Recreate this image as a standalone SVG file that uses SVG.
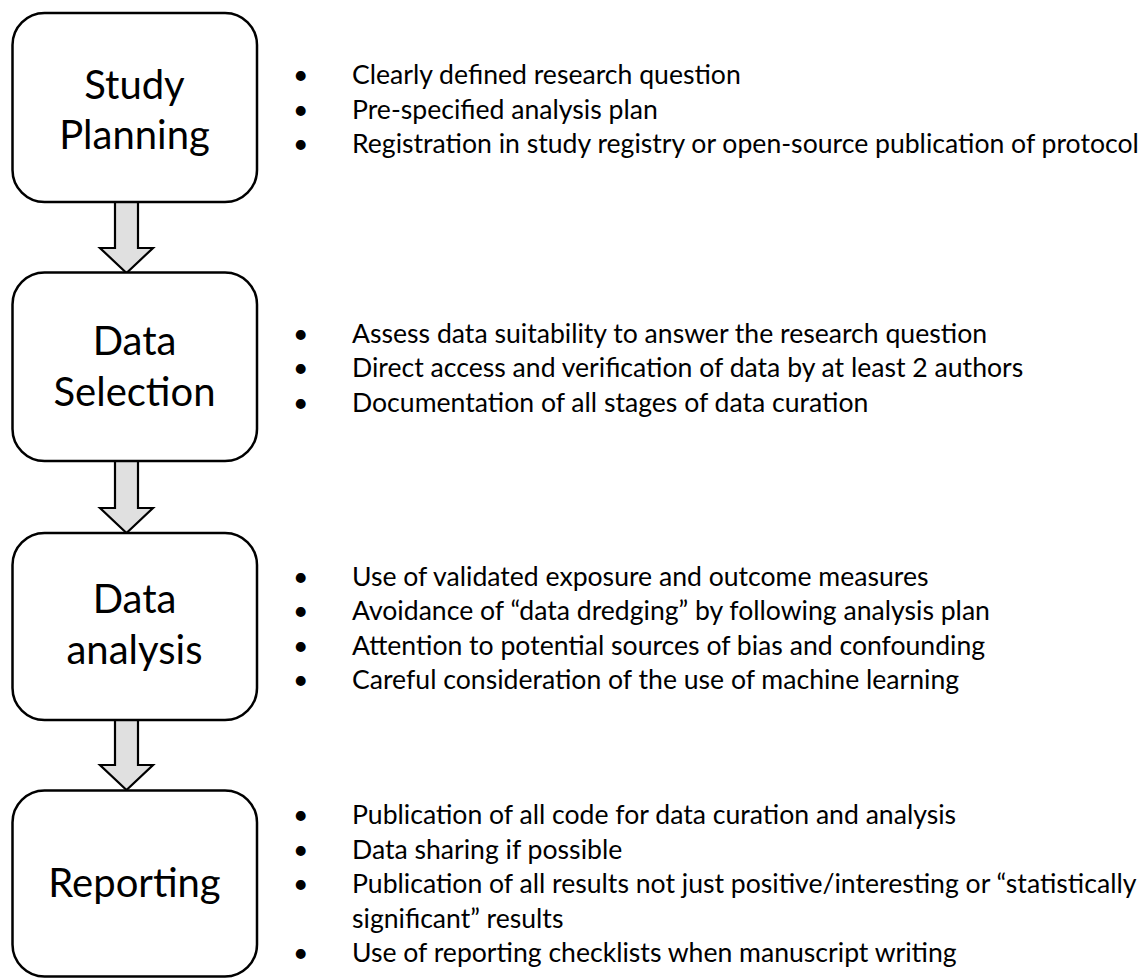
<svg xmlns="http://www.w3.org/2000/svg" width="1148" height="978" viewBox="0 0 1148 978">
<style>
.box{fill:#fff;stroke:#000;stroke-width:2.5}
.arr{fill:#e0e0e0;stroke:#000;stroke-width:2.2;stroke-linejoin:miter}
.lbl{font-family:Lato,"Open Sans",sans-serif;font-size:40px;fill:#000;text-anchor:middle}
.b{font-family:Lato,"Open Sans",sans-serif;font-size:26.6px;fill:#000}
</style>
<rect width="1148" height="978" fill="#fff"/>
<g id="connectors">
<polygon class="arr" points="115,202 138,202 138,248 153,248 126.5,273 100,248 115,248"/>
<polygon class="arr" points="115,461 138,461 138,508 153,508 126.5,533 100,508 115,508"/>
<polygon class="arr" points="115,720 138,720 138,765 153,765 126.5,790 100,765 115,765"/>
</g>
<g id="study-planning">
<rect class="box" x="12.5" y="13" width="244.5" height="189" rx="32"/>
<text class="lbl" x="134.5" y="99">Study</text>
<text class="lbl" x="134.5" y="149">Planning</text>
<g class="b">
<text x="293" y="84">•</text><text x="352" y="84">Clearly defined research question</text>
<text x="293" y="118.5">•</text><text x="352" y="118.5">Pre-specified analysis plan</text>
<text x="293" y="153">•</text><text x="352" y="153">Registration in study registry or open-source publication of protocol</text>
</g>
</g>
<g id="data-selection">
<rect class="box" x="12.5" y="272.5" width="244.5" height="188.5" rx="32"/>
<text class="lbl" x="134.5" y="355">Data</text>
<text class="lbl" x="134.5" y="406">Selection</text>
<g class="b">
<text x="293" y="342.5">•</text><text x="352" y="342.5">Assess data suitability to answer the research question</text>
<text x="293" y="377">•</text><text x="352" y="377">Direct access and verification of data by at least 2 authors</text>
<text x="293" y="411.5">•</text><text x="352" y="411.5">Documentation of all stages of data curation</text>
</g>
</g>
<g id="data-analysis">
<rect class="box" x="12.5" y="533" width="244.5" height="187" rx="32"/>
<text class="lbl" x="134.5" y="613">Data</text>
<text class="lbl" x="134.5" y="664">analysis</text>
<g class="b">
<text x="293" y="585.5">•</text><text x="352" y="585.5">Use of validated exposure and outcome measures</text>
<text x="293" y="620">•</text><text x="352" y="620">Avoidance of “data dredging” by following analysis plan</text>
<text x="293" y="654.5">•</text><text x="352" y="654.5">Attention to potential sources of bias and confounding</text>
<text x="293" y="689">•</text><text x="352" y="689">Careful consideration of the use of machine learning</text>
</g>
</g>
<g id="reporting">
<rect class="box" x="12.5" y="790.5" width="244.5" height="186" rx="32"/>
<text class="lbl" x="134.5" y="897">Reporting</text>
<g class="b">
<text x="293" y="824">•</text><text x="352" y="824">Publication of all code for data curation and analysis</text>
<text x="293" y="858.5">•</text><text x="352" y="858.5">Data sharing if possible</text>
<text x="293" y="893">•</text><text x="352" y="893">Publication of all results not just positive/interesting or “statistically</text>
<text x="352" y="927.5">significant” results</text>
<text x="293" y="962">•</text><text x="352" y="962">Use of reporting checklists when manuscript writing</text>
</g>
</g>
</svg>
